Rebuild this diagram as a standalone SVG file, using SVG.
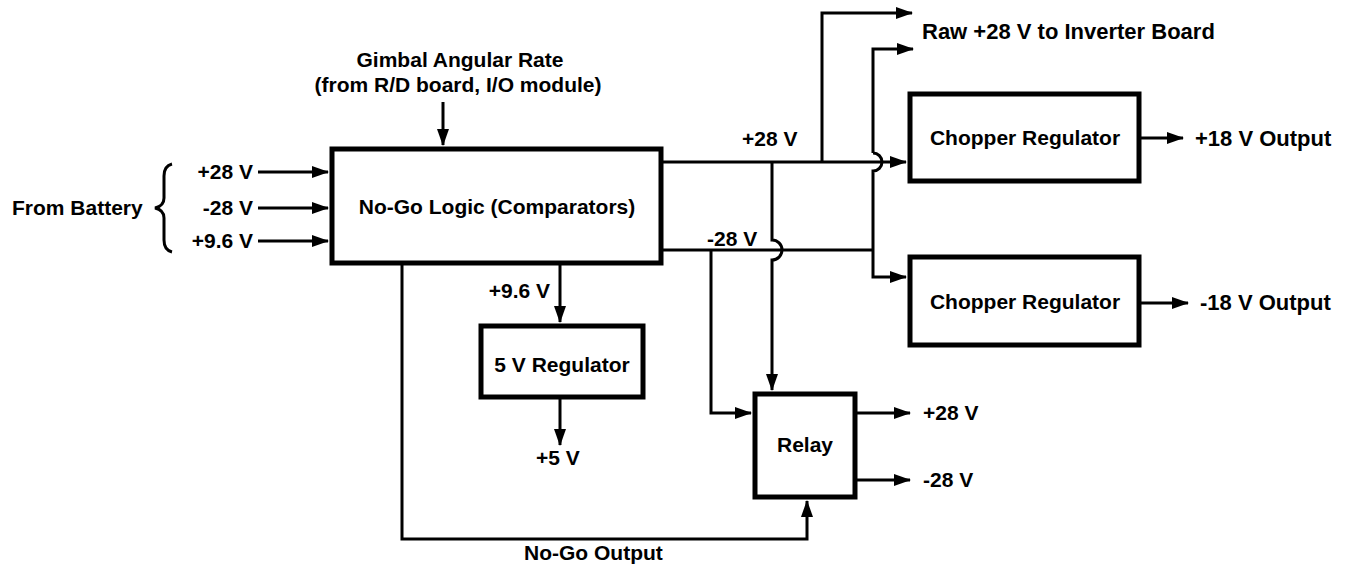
<svg xmlns="http://www.w3.org/2000/svg" width="1363" height="568" viewBox="0 0 1363 568">
<style>
.box{fill:#fff;stroke:#000;stroke-width:5}
.wire{fill:none;stroke:#000;stroke-width:3}
.arr{marker-end:url(#ah)}
text{font-family:"Liberation Sans",Arial,sans-serif;font-weight:bold;font-size:21px;fill:#000}
.m{text-anchor:middle}
.e{text-anchor:end}
.w{font-size:22px}
</style>
<defs>
<marker id="ah" markerUnits="userSpaceOnUse" markerWidth="17" markerHeight="12" refX="16" refY="6" orient="auto">
<path d="M0,0 L17,6 L0,12 Z" fill="#000"/>
</marker>
</defs>
<rect width="1363" height="568" fill="#fff"/>

<g id="connectors">
<path class="wire arr" d="M258,172 H328"/>
<path class="wire arr" d="M258,208 H328"/>
<path class="wire arr" d="M258,241 H328"/>
<path class="wire arr" d="M443,102 V145"/>
<path class="wire arr" d="M663,162 H906"/>
<path class="wire arr" d="M822,162 V13 H912"/>
<path class="wire arr" d="M873,153 V49 H913"/>
<path class="wire arr" d="M873,153 A9,9 0 0 1 873,171 V277 H906"/>
<path class="wire" d="M663,250 H873"/>
<path class="wire arr" d="M772,162 V240 A10,10 0 0 1 772,260 V390"/>
<path class="wire arr" d="M711,250 V413 H751"/>
<path class="wire arr" d="M560,265 V322"/>
<path class="wire arr" d="M560,399 V445"/>
<path class="wire arr" d="M402,265 V539 H807 V501"/>
<path class="wire arr" d="M857,413 H910"/>
<path class="wire arr" d="M857,480 H910"/>
<path class="wire arr" d="M1141,138 H1183"/>
<path class="wire arr" d="M1141,303 H1188"/>
<path class="wire" d="M172,164 Q164,166 164,176 L164,198 Q164,206 155,208 Q164,210 164,218 L164,240 Q164,250 172,252"/>
</g>

<g id="labels">
<text class="m" x="460" y="67">Gimbal Angular Rate</text>
<text class="m" x="458" y="92">(from R/D board, I/O module)</text>
<text x="12" y="215">From Battery</text>
<text class="e" x="253" y="179">+28 V</text>
<text class="e" x="253" y="215">-28 V</text>
<text class="e" x="253" y="248">+9.6 V</text>
<text x="742" y="146">+28 V</text>
<text x="707" y="246">-28 V</text>
<text class="w" x="922" y="39">Raw +28 V to Inverter Board</text>
<text class="w" x="1195" y="146">+18 V Output</text>
<text class="w" x="1200" y="310">-18 V Output</text>
<text class="e" x="550" y="298">+9.6 V</text>
<text class="m" x="558" y="465">+5 V</text>
<text x="923" y="420">+28 V</text>
<text x="923" y="487">-28 V</text>
<text x="524" y="560">No-Go Output</text>
</g>

<g id="nogo-logic">
<rect class="box" x="332" y="149" width="329" height="114"/>
<text class="m" x="497" y="214">No-Go Logic (Comparators)</text>
</g>
<g id="chopper-pos">
<rect class="box" x="910" y="94" width="229" height="87"/>
<text class="m" x="1025" y="145">Chopper Regulator</text>
</g>
<g id="chopper-neg">
<rect class="box" x="910" y="257" width="229" height="88"/>
<text class="m" x="1025" y="309">Chopper Regulator</text>
</g>
<g id="regulator-5v">
<rect class="box" x="481" y="326" width="162" height="71"/>
<text class="m" x="562" y="372">5 V Regulator</text>
</g>
<g id="relay">
<rect class="box" x="755" y="394" width="100" height="103"/>
<text class="m" x="805" y="452">Relay</text>
</g>
</svg>
